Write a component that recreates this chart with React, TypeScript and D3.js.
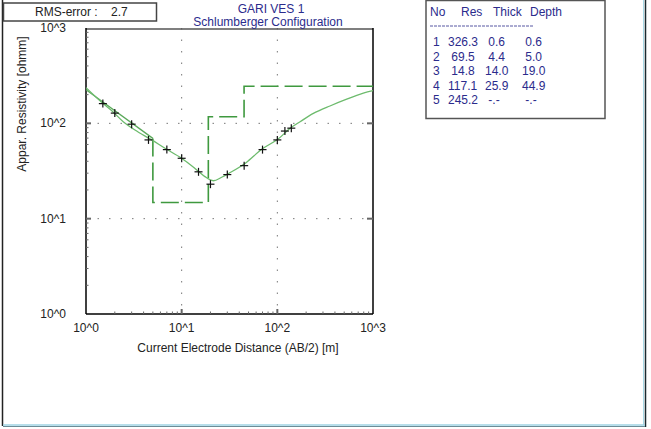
import React from "react";
import * as d3 from "d3";

// field data (AB/2 [m], apparent resistivity [ohmm])
const ab2 = [1.5, 2, 3, 4.5, 7, 10, 15, 20, 30, 45, 70, 100, 120, 140];
const rhoObs = [161, 128, 98, 67, 53, 43, 31, 23, 29, 36, 53, 67, 83, 89];

// calculated curve
const curveX = [1, 1.46, 1.93, 2.45, 3.25, 4.86, 6.7, 10, 14.4, 17.5, 21.4, 26.2, 31.2, 46.7, 68.6, 101, 136, 173, 238, 355, 531, 792, 1000];
const curveY = [237, 166, 131, 104, 85, 67, 54.7, 43, 32.4, 27.6, 25, 27.2, 29.9, 38.4, 53.4, 68, 88.7, 104, 127, 152, 179, 207, 220];

// layer model
const layerNo = [1, 2, 3, 4, 5];
const layerRes = [326.3, 69.5, 14.8, 117.1, 245.2];
const layerThick = [0.6, 4.4, 14.0, 25.9];
const layerDepth = [0.6, 5.0, 19.0, 44.9];

const decades = [1, 10, 100, 1000];
const decadeLabels = ["10^0", "10^1", "10^2", "10^3"];

const W = 651;
const H = 429;
const LEFT = 86;
const RIGHT = 373;
const TOP = 28;
const BOTTOM = 314;
const TEXT_BLUE = "#2b2b8c";
const FONT = "Arial, 'Liberation Sans', sans-serif";
const PRE = { whiteSpace: "pre" } as React.CSSProperties;

const App = () => {
  const x = d3.scaleLog().domain([1, 1000]).range([LEFT, RIGHT]);
  const y = d3.scaleLog().domain([1, 1000]).range([BOTTOM, TOP]);

  const minors: number[] = [];
  [1, 10, 100].forEach((d) => {
    for (let k = 2; k <= 9; k++) minors.push(d * k);
  });

  const curve = d3
    .line<number>()
    .x((_, i) => x(curveX[i]))
    .y((d) => y(d))
    .curve(d3.curveCatmullRom.alpha(0.5));

  // model line: first layer joined straight to the second, then steps
  const firstSeg: [number, number][] = [
    [layerDepth[0], layerRes[0]],
    [layerDepth[1], layerRes[1]],
  ];
  const restSeg: [number, number][] = [];
  for (let i = 1; i < layerDepth.length; i++) {
    restSeg.push([layerDepth[i], layerRes[i]]);
    restSeg.push([layerDepth[i], layerRes[i + 1]]);
  }
  restSeg.push([1000, layerRes[layerRes.length - 1]]);
  const stepLine = d3
    .line<[number, number]>()
    .x((d) => x(d[0]))
    .y((d) => y(d[1]));

  const fmt = d3.format(".1f");
  const colX = { no: 433, res: 448, thick: 485, depth: 522 };

  return (
    <svg
      width={W}
      height={H}
      style={{ position: "absolute", left: 0, top: 0, background: "#fff" }}
      fontFamily={FONT}
      fontSize={12}
    >
      <defs>
        <clipPath id="plot">
          <rect x={LEFT} y={TOP} width={RIGHT - LEFT} height={BOTTOM - TOP} />
        </clipPath>
      </defs>

      {/* window frame */}
      <line x1={2.5} x2={2.5} y1={0} y2={426} stroke="#222" strokeWidth={1.5} />
      <line x1={643.5} x2={643.5} y1={0} y2={425} stroke="#a9dbe8" strokeWidth={1} />
      <line x1={645.5} x2={645.5} y1={0} y2={427} stroke="#1b2b30" strokeWidth={1.5} />
      <line x1={3} x2={645} y1={425} y2={425} stroke="#9fd3e3" strokeWidth={1.5} />
      <line x1={3} x2={645} y1={426.5} y2={426.5} stroke="#6c8c96" strokeWidth={1} />

      {/* grid */}
      {decades.slice(1, 3).map((d) => (
        <g key={"g" + d} stroke="#777" strokeWidth={1} strokeDasharray="1.5 10">
          <line x1={x(d)} x2={x(d)} y1={TOP} y2={BOTTOM} />
          <line x1={LEFT} x2={RIGHT} y1={y(d)} y2={y(d)} />
        </g>
      ))}

      {/* axes */}
      <line x1={LEFT} x2={RIGHT} y1={TOP + 1} y2={TOP + 1} stroke="#555" strokeWidth={1.5} />
      <line x1={LEFT} x2={LEFT} y1={TOP} y2={BOTTOM} stroke="#000" strokeWidth={1.5} />
      <line x1={RIGHT} x2={RIGHT} y1={TOP} y2={BOTTOM} stroke="#000" strokeWidth={1.5} />
      <line x1={LEFT} x2={RIGHT} y1={BOTTOM} y2={BOTTOM} stroke="#000" strokeWidth={1.5} />

      {minors.map((m) => (
        <g key={"m" + m} stroke="#666" strokeWidth={1}>
          <line x1={x(m)} x2={x(m)} y1={BOTTOM} y2={BOTTOM - 2.5} />
          <line x1={LEFT} x2={LEFT + 2.5} y1={y(m)} y2={y(m)} />
        </g>
      ))}
      {decades.slice(1, 3).map((d) => (
        <g key={"t" + d} stroke="#666" strokeWidth={2}>
          <line x1={x(d)} x2={x(d)} y1={BOTTOM} y2={BOTTOM - 5} />
          <line x1={LEFT} x2={LEFT + 5} y1={y(d)} y2={y(d)} />
          <line x1={RIGHT} x2={RIGHT - 6} y1={y(d)} y2={y(d)} />
        </g>
      ))}

      {/* tick labels */}
      {decades.map((d, i) => (
        <text key={"xl" + d} x={x(d)} y={332} textAnchor="middle" fill="#222">
          {decadeLabels[i]}
        </text>
      ))}
      {decades.map((d, i) => (
        <text key={"yl" + d} x={66} y={y(d) + 4} textAnchor="end" fill="#222">
          {decadeLabels[i]}
        </text>
      ))}

      <text x={238} y={352} textAnchor="middle" fill="#222">
        Current Electrode Distance (AB/2) [m]
      </text>
      <text transform={`translate(26, 104) rotate(-90)`} textAnchor="middle" fill="#222">
        Appar. Resistivity [ohmm]
      </text>

      {/* curves */}
      <g clipPath="url(#plot)" fill="none">
        <path d={stepLine(firstSeg)!} stroke="#5aa85a" strokeWidth={1.3} />
        <path d={stepLine(restSeg)!} stroke="#3f993f" strokeWidth={1.6} strokeDasharray="18 6" />
        <path d={curve(curveY)!} stroke="#6dbb6d" strokeWidth={1.3} />
      </g>

      {/* observed points */}
      {ab2.map((a, i) => (
        <g key={"p" + i} stroke="#111" strokeWidth={1.2}>
          <line x1={x(a) - 4} x2={x(a) + 4} y1={y(rhoObs[i])} y2={y(rhoObs[i])} />
          <line x1={x(a)} x2={x(a)} y1={y(rhoObs[i]) - 4} y2={y(rhoObs[i]) + 4} />
        </g>
      ))}

      {/* RMS box */}
      <rect x={3.5} y={3} width={153} height={18} fill="#fff" stroke="#444" strokeWidth={1.5} />
      <text x={35} y={16} fill="#222" xmlSpace="preserve" style={PRE}>
        {"RMS-error :    2.7"}
      </text>

      {/* title */}
      <text x={271} y={13} textAnchor="middle" fill={TEXT_BLUE}>
        GARI VES 1
      </text>
      <text x={268} y={26} textAnchor="middle" fill={TEXT_BLUE}>
        Schlumberger Configuration
      </text>

      {/* layer table */}
      <rect x={426} y={0.5} width={179} height={118} fill="#fff" stroke="#555" strokeWidth={1.5} />
      <g fill={TEXT_BLUE}>
        <text x={430} y={16}>No</text>
        <text x={461} y={16}>Res</text>
        <text x={493} y={16}>Thick</text>
        <text x={530} y={16}>Depth</text>
        <line x1={430} x2={533} y1={26} y2={26} stroke={TEXT_BLUE} strokeWidth={0.8} strokeDasharray="3 1" />
        {layerNo.map((n, i) => {
          const yy = 46 + i * 14.6;
          const th = i < layerThick.length ? fmt(layerThick[i]) : "-.-";
          const dp = i < layerDepth.length ? fmt(layerDepth[i]) : "-.-";
          return (
            <g key={"r" + n}>
              <text x={colX.no} y={yy}>{String(n)}</text>
              <text x={colX.res} y={yy} xmlSpace="preserve" style={PRE}>
                {fmt(layerRes[i]).padStart(5, " ")}
              </text>
              <text x={colX.thick} y={yy} xmlSpace="preserve" style={PRE}>
                {th.padStart(4, " ")}
              </text>
              <text x={colX.depth} y={yy} xmlSpace="preserve" style={PRE}>
                {dp.padStart(4, " ")}
              </text>
            </g>
          );
        })}
      </g>
    </svg>
  );
};

export default App;
